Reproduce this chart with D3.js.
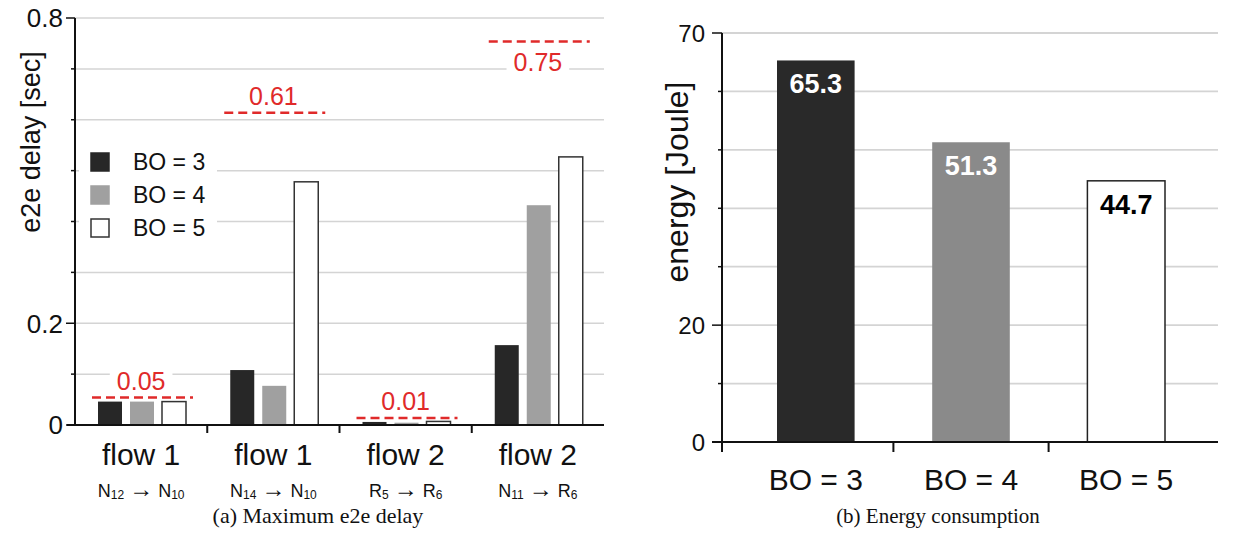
<!DOCTYPE html>
<html>
<head>
<meta charset="utf-8">
<script src="https://cdn.jsdelivr.net/npm/d3@7"></script>
<style>
  html, body { margin: 0; padding: 0; background: #fff; }
  svg { display: block; }
  text { font-family: "Liberation Sans", Arial, sans-serif; }
  text.caption { font-family: "Liberation Serif", "Times New Roman", serif; }
</style>
</head>
<body>
<svg id="chart" width="1257" height="535"></svg>
<script>
// ---------- data: (a) maximum e2e delay ----------
const flowLabels = ["flow 1", "flow 1", "flow 2", "flow 2"];
const fromBase = ["N", "N", "R", "N"];
const fromSub  = ["12", "14", "5", "11"];
const toBase   = ["N", "N", "R", "R"];
const toSub    = ["10", "10", "6", "6"];
const series   = ["BO = 3", "BO = 4", "BO = 5"];
const delayBO3 = [0.046, 0.108, 0.006, 0.157];
const delayBO4 = [0.046, 0.077, 0.0045, 0.432];
const delayBO5 = [0.046, 0.478, 0.007, 0.527];
const deadlines = [0.05, 0.61, 0.01, 0.75];
const delayTicks = [0, 0.1, 0.2, 0.3, 0.4, 0.5, 0.6, 0.7, 0.8];
const delayTickLabels = [0, 0.2, 0.8];

// ---------- data: (b) energy consumption ----------
const energyCats = ["BO = 3", "BO = 4", "BO = 5"];
const energy = [65.3, 51.3, 44.7];
const energyTicks = [0, 10, 20, 30, 40, 50, 60, 70];
const energyTickLabels = [0, 20, 70];

const fills = ["#272727", "#a0a0a0", "#ffffff"];
const energyFills = ["#292929", "#8a8a8a", "#ffffff"];
const labelFills = ["#ffffff", "#ffffff", "#000000"];
const red = "#e02a2a";
const gridColor = "#d4d4d4";

const svg = d3.select("#chart");

// =============== Chart (a) ===============
const A = { left: 75, right: 604, top: 18, bottom: 425 };
const ya = d3.scaleLinear().domain([0, 0.8]).range([A.bottom, A.top]);
const xa = d3.scaleBand().domain(d3.range(flowLabels.length)).range([A.left, A.right]);
const xs = d3.scaleBand().domain(series).range([23, 111]).paddingInner(0.25);

const ga = svg.append("g");
// grid
ga.selectAll("line.grid").data(delayTicks.filter(d => d > 0)).join("line")
  .attr("x1", A.left).attr("x2", A.right)
  .attr("y1", d => ya(d)).attr("y2", d => ya(d))
  .attr("stroke", gridColor).attr("stroke-width", 1.5);

// legend background (covers grid)
const leg = ga.append("g");
leg.append("rect").attr("x", A.left + 4).attr("y", 140).attr("width", 138).attr("height", 106).attr("fill", "#fff");
series.forEach((s, i) => {
  const y0 = 153 + i * 33;
  leg.append("rect").attr("x", 91).attr("y", y0).attr("width", 18).attr("height", 18)
    .attr("fill", fills[i]).attr("stroke", i === 2 ? "#333" : fills[i]).attr("stroke-width", 1.5);
  leg.append("text").attr("x", 133).attr("y", y0 + 9).attr("dy", "0.35em")
    .attr("font-size", 23).attr("fill", "#111").text(s);
});

// bars
const delayData = [delayBO3, delayBO4, delayBO5];
flowLabels.forEach((f, gi) => {
  series.forEach((s, si) => {
    const v = delayData[si][gi];
    ga.append("rect")
      .attr("x", xa(gi) + xs(s)).attr("width", xs.bandwidth())
      .attr("y", ya(v)).attr("height", ya(0) - ya(v))
      .attr("fill", fills[si])
      .attr("stroke", si === 2 ? "#333" : "none").attr("stroke-width", 1.5);
  });
});

// deadline lines + labels
deadlines.forEach((d, gi) => {
  const x0 = xa(gi) + 17, x1 = xa(gi) + 118;
  const yl = ya(d) - 2;
  ga.append("line").attr("x1", x0).attr("x2", x1).attr("y1", yl).attr("y2", yl)
    .attr("stroke", red).attr("stroke-width", 2.5).attr("stroke-dasharray", "9,5");
  const below = gi === 3;
  const ty = below ? yl + 30 : yl - 8;
  const cx = xa(gi) + xa.bandwidth() / 2;
  const t = ga.append("text").attr("x", cx).attr("y", ty).attr("text-anchor", "middle")
    .attr("font-size", 25).attr("fill", red).text(d.toFixed(2));
  const bb = t.node().getBBox();
  ga.insert("rect", () => t.node())
    .attr("x", bb.x - 7).attr("y", bb.y + 4).attr("width", bb.width + 14).attr("height", bb.height - 6)
    .attr("fill", "#fff");
});

// axes
ga.append("line").attr("x1", A.left).attr("x2", A.left).attr("y1", A.top).attr("y2", A.bottom + 1)
  .attr("stroke", "#111").attr("stroke-width", 2);
ga.append("line").attr("x1", A.left - 8).attr("x2", A.right).attr("y1", A.bottom).attr("y2", A.bottom)
  .attr("stroke", "#111").attr("stroke-width", 2);
delayTicks.forEach(t => {
  const lab = delayTickLabels.includes(t);
  ga.append("line").attr("x1", A.left - (lab ? 9 : 4)).attr("x2", A.left)
    .attr("y1", ya(t)).attr("y2", ya(t)).attr("stroke", "#111").attr("stroke-width", 1.5);
  if (lab) {
    ga.append("text").attr("x", A.left - 12).attr("y", ya(t)).attr("dy", "0.36em")
      .attr("text-anchor", "end").attr("font-size", 26).attr("fill", "#111").text(String(t));
  }
});
d3.range(1, flowLabels.length).forEach(i => {
  ga.append("line").attr("x1", xa(i)).attr("x2", xa(i)).attr("y1", A.bottom).attr("y2", A.bottom + 8)
    .attr("stroke", "#111").attr("stroke-width", 2);
});
// category labels
flowLabels.forEach((f, gi) => {
  const cx = xa(gi) + xa.bandwidth() / 2;
  ga.append("text").attr("x", cx).attr("y", 465).attr("text-anchor", "middle")
    .attr("font-size", 30).attr("fill", "#111").text(f);
  const t = ga.append("text").attr("x", cx).attr("y", 497).attr("text-anchor", "middle")
    .attr("font-size", 18).attr("fill", "#111");
  t.append("tspan").text(fromBase[gi]);
  t.append("tspan").attr("font-size", 12).attr("dy", 2).text(fromSub[gi]);
  t.append("tspan").attr("dy", -2).attr("font-size", 18).text(" ");
  t.append("tspan").attr("font-size", 24).attr("dy", 0).text("\u2192");
  t.append("tspan").attr("font-size", 18).text(" " + toBase[gi]);
  t.append("tspan").attr("font-size", 12).attr("dy", 2).text(toSub[gi]);
});
// y title
ga.append("text").attr("transform", "translate(40,142) rotate(-90)").attr("text-anchor", "middle")
  .attr("font-size", 27).attr("fill", "#111").text("e2e delay [sec]");
// caption
ga.append("text").attr("class", "caption").attr("x", 318).attr("y", 523).attr("text-anchor", "middle")
  .attr("font-size", 22).attr("fill", "#111").text("(a) Maximum e2e delay");

// =============== Chart (b) ===============
const B = { left: 722, right: 1218, top: 33, bottom: 442 };
const yb = d3.scaleLinear().domain([0, 70]).range([B.bottom, B.top]);
const xb = d3.scaleBand().domain(energyCats).range([777, 1165]).paddingInner(0.5);
const gb = svg.append("g");
gb.selectAll("line.grid").data(energyTicks.filter(d => d > 0)).join("line")
  .attr("x1", B.left).attr("x2", B.right)
  .attr("y1", d => yb(d)).attr("y2", d => yb(d))
  .attr("stroke", gridColor).attr("stroke-width", 1.8);

energyCats.forEach((c, i) => {
  const v = energy[i];
  gb.append("rect").attr("x", xb(c)).attr("width", xb.bandwidth())
    .attr("y", yb(v)).attr("height", yb(0) - yb(v))
    .attr("fill", energyFills[i])
    .attr("stroke", i === 2 ? "#222" : "none").attr("stroke-width", 1.5);
  gb.append("text").attr("x", xb(c) + xb.bandwidth() / 2).attr("y", yb(v) + 33)
    .attr("text-anchor", "middle").attr("font-size", 27).attr("font-weight", "bold")
    .attr("fill", labelFills[i]).text(v.toFixed(1));
});

gb.append("line").attr("x1", B.left).attr("x2", B.left).attr("y1", B.top).attr("y2", B.bottom + 10)
  .attr("stroke", "#111").attr("stroke-width", 2);
gb.append("line").attr("x1", B.left - 10).attr("x2", B.right).attr("y1", B.bottom).attr("y2", B.bottom)
  .attr("stroke", "#111").attr("stroke-width", 2);
energyTicks.forEach(t => {
  const lab = energyTickLabels.includes(t);
  gb.append("line").attr("x1", B.left - (lab ? 10 : 4)).attr("x2", B.left)
    .attr("y1", yb(t)).attr("y2", yb(t)).attr("stroke", "#111").attr("stroke-width", 1.5);
  if (lab) {
    gb.append("text").attr("x", B.left - 17).attr("y", yb(t)).attr("dy", "0.36em")
      .attr("text-anchor", "end").attr("font-size", 24).attr("fill", "#111").text(String(t));
  }
});
energyCats.slice(1).forEach(c => {
  const xt = xb(c) - xb.step() * xb.paddingInner() / 2;
  gb.append("line").attr("x1", xt).attr("x2", xt).attr("y1", B.bottom).attr("y2", B.bottom + 10)
    .attr("stroke", "#111").attr("stroke-width", 2);
});
energyCats.forEach(c => {
  gb.append("text").attr("x", xb(c) + xb.bandwidth() / 2).attr("y", 490).attr("text-anchor", "middle")
    .attr("font-size", 30).attr("fill", "#111").text(c);
});
gb.append("text").attr("transform", "translate(688,182) rotate(-90)").attr("text-anchor", "middle")
  .attr("font-size", 32).attr("fill", "#111").text("energy [Joule]");
gb.append("text").attr("class", "caption").attr("x", 938).attr("y", 523).attr("text-anchor", "middle")
  .attr("font-size", 21).attr("fill", "#111").text("(b) Energy consumption");
</script>
</body>
</html>
